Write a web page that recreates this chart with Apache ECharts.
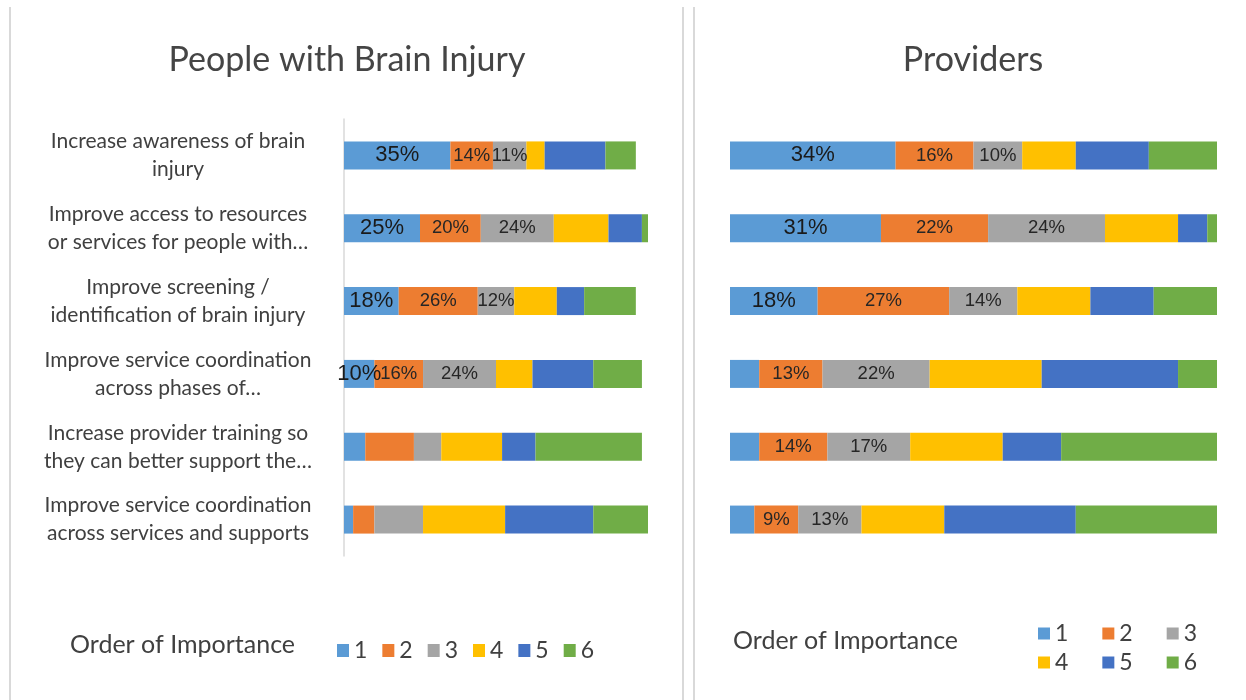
<!DOCTYPE html>
<html>
<head>
<meta charset="utf-8">
<script src="https://cdn.jsdelivr.net/npm/echarts@6.0.0/dist/echarts.min.js"></script>
<style>
  html, body { margin: 0; padding: 0; background: #fff; }
  #chart { width: 1246px; height: 700px; }
</style>
</head>
<body>
<div id="chart"></div>
<script>
const categories = [
  'Increase awareness of brain\ninjury',
  'Improve access to resources\nor services for people with\u2026',
  'Improve screening /\nidentification of brain injury',
  'Improve service coordination\nacross phases of\u2026',
  'Increase provider training so\nthey can better support the\u2026',
  'Improve service coordination\nacross services and supports'
]
const ranks = ['1', '2', '3', '4', '5', '6']
const colors = ['#5b9bd5', '#ed7d31', '#a5a5a5', '#ffc000', '#4472c4', '#70ad47']

// People with Brain Injury, percent per rank (rows = categories)
const left1 = [35, 25, 18, 10, 7, 3]
const left2 = [14, 20, 26, 16, 16, 7]
const left3 = [11, 24, 12, 24, 9, 16]
const left4 = [6, 18, 14, 12, 20, 27]
const left5 = [20, 11, 9, 20, 11, 29]
const left6 = [10, 2, 17, 16, 35, 18]

// Providers
const right1 = [34, 31, 18, 6, 6, 5]
const right2 = [16, 22, 27, 13, 14, 9]
const right3 = [10, 24, 14, 22, 17, 13]
const right4 = [11, 15, 15, 23, 19, 17]
const right5 = [15, 6, 13, 28, 12, 27]
const right6 = [14, 2, 13, 8, 32, 29]

// which segments carry a value label
const leftLabelled = [
  [1, 1, 1, 1, 0, 0],
  [1, 1, 1, 1, 0, 0],
  [1, 1, 1, 1, 0, 0],
]
const rightLabelled = [
  [1, 1, 1, 0, 0, 0],
  [1, 1, 1, 1, 1, 1],
  [1, 1, 1, 1, 1, 1],
]

const textColor = '#404040'
const font = 'Lato'

function makeSeries(values, labelled, stack, axisIndex) {
  return values.map((vals, i) => ({
    name: ranks[i],
    type: 'bar',
    stack: stack,
    xAxisIndex: axisIndex,
    yAxisIndex: axisIndex,
    barWidth: 28,
    itemStyle: { color: colors[i] },
    label: {
      position: 'inside',
      formatter: '{c}%',
      color: i === 0 ? '#1a1a1a' : '#262626',
      fontFamily: 'Liberation Sans',
      fontSize: i === 0 ? 22 : 18.5,
    },
    emphasis: { disabled: true },
    data: vals.map((v, j) => ({
      value: v,
      label: { show: !!(labelled[i] && labelled[i][j]) },
    })),
  }))
}

const chart = echarts.init(document.getElementById('chart'))

const titleStyle = { fontFamily: font, fontSize: 34, fontWeight: 'normal', color: '#454545' }
const subStyle = { fontFamily: font, fontSize: 25, fontWeight: 'normal', color: textColor }
const legendBase = {
  icon: 'rect', padding: 0, selectedMode: false,
  textStyle: { fontFamily: font, fontSize: 23, color: textColor },
}

const option = {
  backgroundColor: '#fff',
  animation: false,
  color: colors,
  title: [
    { text: 'People with Brain Injury', left: 347, top: 43, padding: 0, textAlign: 'center', textStyle: titleStyle },
    { text: 'Providers', left: 973, top: 43, padding: 0, textAlign: 'center', textStyle: titleStyle },
    { text: 'Order of Importance', left: 70, top: 632, padding: 0, textStyle: subStyle },
    { text: 'Order of Importance', left: 733, top: 628, padding: 0, textStyle: subStyle },
  ],
  legend: [
    { ...legendBase, data: ranks, left: 337, top: 639, itemWidth: 12, itemHeight: 13, itemGap: 15 },
    { ...legendBase, data: ranks.slice(0, 3), left: 1038, top: 622, itemWidth: 12, itemHeight: 12, itemGap: 34 },
    { ...legendBase, data: ranks.slice(3), left: 1038, top: 651, itemWidth: 12, itemHeight: 12, itemGap: 34 },
  ],
  grid: [
    { left: 344, top: 119, width: 304, height: 437 },
    { left: 730, top: 119, width: 487, height: 437 },
  ],
  xAxis: [
    { type: 'value', gridIndex: 0, min: 0, max: 100, show: false },
    { type: 'value', gridIndex: 1, min: 0, max: 100, show: false },
  ],
  yAxis: [
    {
      type: 'category', gridIndex: 0, inverse: true, data: categories,
      axisLine: { lineStyle: { color: '#d9d9d9', width: 1.5 } },
      axisTick: { length: 8, lineStyle: { color: '#d9d9d9', width: 1.5 } },
      axisLabel: {
        interval: 0, align: 'center', margin: 166, lineHeight: 28,
        fontFamily: font, fontSize: 21, color: textColor,
      },
    },
    { type: 'category', gridIndex: 1, inverse: true, data: categories, show: false },
  ],
  graphic: [
    { type: 'line', shape: { x1: 10, y1: 7, x2: 10, y2: 700 }, style: { stroke: '#d9d9d9', lineWidth: 2 } },
    { type: 'line', shape: { x1: 683, y1: 7, x2: 683, y2: 700 }, style: { stroke: '#d9d9d9', lineWidth: 2 } },
    { type: 'line', shape: { x1: 694, y1: 7, x2: 694, y2: 700 }, style: { stroke: '#d9d9d9', lineWidth: 2 } },
  ],
  series: [
    ...makeSeries([left1, left2, left3, left4, left5, left6], leftLabelled, 'left', 0),
    ...makeSeries([right1, right2, right3, right4, right5, right6], rightLabelled, 'right', 1),
  ],
}

chart.setOption(option)
</script>
</body>
</html>
